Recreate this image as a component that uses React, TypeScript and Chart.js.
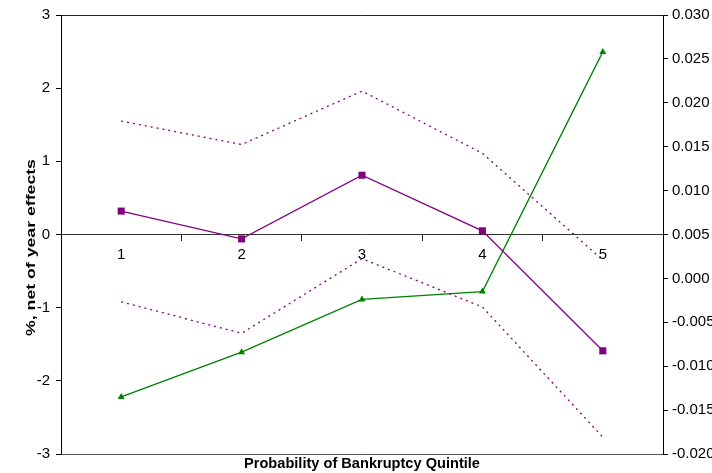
import React, { useEffect, useRef } from "react";
import { Chart, registerables } from "chart.js";

Chart.register(...registerables);

const categories = ["1", "2", "3", "4", "5"];
const pointEstimate = [0.32, -0.06, 0.81, 0.05, -1.59];
const upperBound = [1.55, 1.23, 1.96, 1.11, -0.35];
const lowerBound = [-0.92, -1.35, -0.33, -0.99, -2.77];
const rightSeries = [-0.0135, -0.0084, -0.0024, -0.0015, 0.0258];

const leftMin = -3;
const leftMax = 3;
const rightMin = -0.02;
const rightMax = 0.03;

const xTitle = "Probability of Bankruptcy Quintile";
const yTitle = "%, net of year effects";

const FONT = "'Liberation Sans', Arial, sans-serif";
const PURPLE = "#800080";
const GREEN = "#008000";

const yTitlePlugin = {
  id: "yTitlePlugin",
  afterDraw(chart: any) {
    const { ctx, chartArea } = chart;
    ctx.save();
    ctx.font = `bold 13px ${FONT}`;
    ctx.fillStyle = "#000";
    ctx.textAlign = "center";
    ctx.textBaseline = "middle";
    ctx.translate(31, (chartArea.top + chartArea.bottom) / 2 + 13);
    ctx.rotate(-Math.PI / 2);
    ctx.scale(1.36, 1);
    ctx.fillText(yTitle, 0, 0);
    ctx.restore();
  },
};

export default function App() {
  const ref = useRef<HTMLCanvasElement>(null);
  useEffect(() => {
    if (!ref.current) return;
    const chart = new Chart(ref.current, {
      type: "line",
      data: {
        labels: categories,
        datasets: [
          {
            data: upperBound,
            yAxisID: "y",
            xAxisID: "x",
            borderColor: PURPLE,
            borderWidth: 1.3,
            borderDash: [2, 4],
            pointRadius: 0,
            fill: false,
          },
          {
            data: pointEstimate,
            yAxisID: "y",
            xAxisID: "x",
            borderColor: PURPLE,
            backgroundColor: PURPLE,
            borderWidth: 1.3,
            pointStyle: "rect",
            pointRadius: 5,
            pointBorderWidth: 0,
            fill: false,
          },
          {
            data: lowerBound,
            yAxisID: "y",
            xAxisID: "x",
            borderColor: PURPLE,
            borderWidth: 1.3,
            borderDash: [2, 4],
            pointRadius: 0,
            fill: false,
          },
          {
            data: rightSeries,
            yAxisID: "y1",
            xAxisID: "x",
            borderColor: GREEN,
            backgroundColor: GREEN,
            borderWidth: 1.3,
            pointStyle: "triangle",
            pointRadius: 4,
            pointBorderWidth: 0,
            fill: false,
          },
        ],
      },
      options: {
        animation: false,
        responsive: false,
        layout: { padding: 0 },
        plugins: {
          legend: { display: false },
          tooltip: { enabled: false },
        },
        scales: {
          x: {
            type: "category",
            position: { y: 0 } as any,
            offset: true,
            grid: {
              offset: true,
              drawOnChartArea: false,
              drawTicks: true,
              tickLength: 6,
              color: "#222",
            },
            border: { display: true, color: "#333", width: 1 },
            ticks: {
              color: "#000",
              font: { family: FONT, size: 15 },
              padding: 5,
              maxRotation: 0,
            },
          },
          xBottom: {
            type: "category",
            axis: "x",
            position: "bottom",
            offset: true,
            grid: { display: false },
            border: { display: true, color: "#555", width: 1 },
            ticks: { display: false },
            title: {
              display: true,
              text: xTitle,
              color: "#000",
              font: { family: FONT, size: 14.6, weight: "bold" },
              padding: { top: 0, bottom: 0 },
            },
            afterFit(scale: any) {
              scale.height = 19;
            },
          } as any,
          xTop: {
            type: "category",
            axis: "x",
            position: "top",
            grid: { display: false },
            border: { display: true, color: "#222", width: 1 },
            ticks: { display: false },
            afterFit(scale: any) {
              scale.height = 15;
            },
          } as any,
          y: {
            type: "linear",
            position: "left",
            min: leftMin,
            max: leftMax,
            grid: {
              drawOnChartArea: false,
              drawTicks: true,
              tickLength: 5,
              color: "#000",
            },
            border: { display: true, color: "#000", width: 1 },
            ticks: {
              stepSize: 1,
              color: "#000",
              font: { family: FONT, size: 15 },
              padding: 6,
            },
            afterFit(scale: any) {
              scale.width = 61;
            },
          },
          y1: {
            type: "linear",
            position: "right",
            min: rightMin,
            max: rightMax,
            grid: {
              drawOnChartArea: false,
              drawTicks: true,
              tickLength: 5,
              color: "#000",
            },
            border: { display: true, color: "#000", width: 1 },
            ticks: {
              stepSize: 0.005,
              color: "#000",
              font: { family: FONT, size: 15 },
              padding: 4,
              callback: (v: any) => Number(v).toFixed(3),
            },
            afterFit(scale: any) {
              scale.width = 49;
            },
          },
        },
      },
      plugins: [yTitlePlugin],
    });
    return () => chart.destroy();
  }, []);
  return (
    <div style={{ position: "absolute", left: 0, top: 0, width: 712, height: 473, background: "#fff" }}>
      <canvas ref={ref} width={712} height={473} style={{ display: "block" }} />
    </div>
  );
}
